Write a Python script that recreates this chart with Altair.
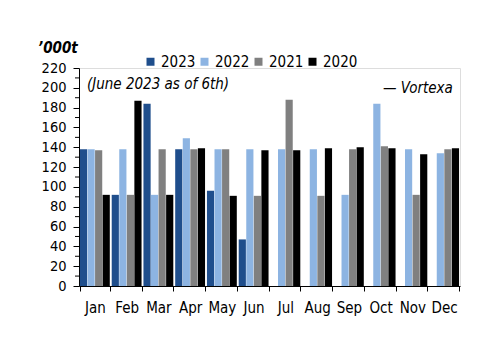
import altair as alt
import pandas as pd

months = ["Jan", "Feb", "Mar", "Apr", "May", "Jun", "Jul", "Aug", "Sep", "Oct", "Nov", "Dec"]
years = ["2023", "2022", "2021", "2020"]
v2023 = [138, 92, 184, 138, 96, 47, None, None, None, None, None, None]
v2022 = [138, 138, 92, 149, 138, 138, 138, 138, 92, 184, 138, 134]
v2021 = [137, 92, 138, 138, 138, 91, 188, 91, 138, 141, 92, 138]
v2020 = [92, 187, 92, 139, 91, 137, 137, 139, 140, 139, 133, 139]
colors = ["#1F4E8C", "#8DB4E2", "#808080", "#000000"]
y_ticks = list(range(0, 221, 20))
minor_ticks = list(range(10, 220, 20))

rows = []
for yr, vals in zip(years, [v2023, v2022, v2021, v2020]):
    for m, v in zip(months, vals):
        if v is not None:
            rows.append({"month": m, "year": yr, "value": v})
df = pd.DataFrame(rows)

FONT = "DejaVu Sans Condensed"
FS = 15

yaxis = alt.Axis(title=None, values=y_ticks, grid=False, tickSize=6, labelFontSize=14.5,
                 labelPadding=7, domainColor="#000", tickColor="#000", labelColor="#000",
                 labelFont=FONT, labelOverlap=False, labelBound=False, labelFlush=False)
yscale = alt.Scale(domain=[0, 220], nice=False)

bars = alt.Chart(df).mark_bar().encode(
    x=alt.X("month:N", sort=months, scale=alt.Scale(paddingInner=0.06, paddingOuter=0.03),
            axis=alt.Axis(title=None, labelAngle=0, tickBand="extent", tickSize=5,
                          labelPadding=9, labelFontSize=FS, domainColor="#000", tickColor="#000",
                          labelColor="#000", labelFont=FONT, labelOverlap=False)),
    xOffset=alt.XOffset("year:N", sort=years, scale=alt.Scale(paddingInner=0.05)),
    y=alt.Y("value:Q", scale=yscale, axis=yaxis),
    color=alt.Color("year:N", sort=years, scale=alt.Scale(domain=years, range=colors),
                    legend=alt.Legend(title=None, orient="none", legendX=64, legendY=-14,
                                      direction="horizontal", symbolType="square", symbolSize=64,
                                      labelFontSize=FS, labelFont=FONT, labelColor="#000",
                                      symbolStrokeWidth=0, columnPadding=1, labelOffset=3)),
)

minor = alt.Chart(pd.DataFrame({"value": minor_ticks})).mark_rule(color="#000", strokeWidth=1).encode(
    y=alt.Y("value:Q", scale=yscale, axis=yaxis), x=alt.value(-4), x2=alt.value(0)
)

unit = alt.Chart(pd.DataFrame({"t": ["\u2019000t"]})).mark_text(
    font=FONT, fontSize=FS, fontStyle="italic", fontWeight="bold", align="left", baseline="middle", color="#000"
).encode(text="t:N", x=alt.value(-41), y=alt.value(-20))

note = alt.Chart(pd.DataFrame({"t": ["(June 2023 as of 6th)"]})).mark_text(
    font=FONT, fontSize=FS, fontStyle="italic", align="left", baseline="middle", color="#000"
).encode(text="t:N", x=alt.value(8), y=alt.value(16))

src = alt.Chart(pd.DataFrame({"t": ["\u2014 Vortexa"]})).mark_text(
    font=FONT, fontSize=FS, fontStyle="italic", align="left", baseline="middle", color="#000"
).encode(text="t:N", x=alt.value(304), y=alt.value(20))

chart = alt.layer(bars, minor, unit, note, src).properties(
    width=381, height=218,
    autosize=alt.AutoSizeParams(type="none"),
    padding={"left": 79, "top": 68, "right": 40, "bottom": 67},
).configure_view(stroke=None).configure(font=FONT)

chart.save("out.html", embed_options={"renderer": "svg", "actions": False})
